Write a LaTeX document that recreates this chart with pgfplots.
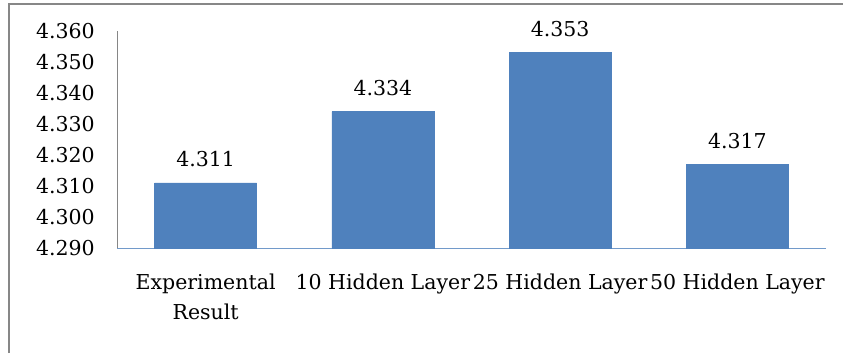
\documentclass[border=0pt]{standalone}
\usepackage{fontspec}
\setmainfont{DejaVu Serif}
\usepackage{pgfplots}
\pgfplotsset{compat=1.18}
\definecolor{barblue}{HTML}{4F81BD}
\definecolor{framegray}{HTML}{878787}
\definecolor{axgray}{HTML}{868686}
\newcommand{\chartfont}{\fontsize{20.5bp}{30bp}\selectfont}
\begin{document}
\begin{tikzpicture}[x=1bp,y=1bp]
\useasboundingbox (0,0) rectangle (843,353);
\draw[framegray, line width=1.5bp] (9,0) -- (9,349) -- (843,349);
\begin{axis}[
  at={(117bp,105bp)}, anchor=south west,
  width=709bp, height=217bp, scale only axis,
  xmin=-0.5, xmax=3.5, ymin=4.29, ymax=4.36,
  axis x line*=bottom, axis y line*=left,
  axis line style={-},
  x axis line style={barblue!80, line width=1bp},
  y axis line style={axgray, line width=0.8bp},
  xtick={0,1,2,3},
  xticklabels={Experimental\\Result, 10 Hidden Layer, 25 Hidden Layer, 50 Hidden Layer},
  ytick={4.29,4.30,4.31,4.32,4.33,4.34,4.35,4.36},
  major tick length=0pt,
  tick style={draw=none},
  /pgf/number format/assume math mode=true,
  yticklabel style={font=\chartfont, /pgf/number format/fixed, /pgf/number format/fixed zerofill, /pgf/number format/precision=3, anchor=east, inner sep=0pt, xshift=-22bp},
  xticklabel style={font=\chartfont, align=center, anchor=north, inner sep=0pt, yshift=-26bp},
  scaled y ticks=false,
  ybar, bar width=102bp,
  nodes near coords,
  nodes near coords style={font=\chartfont, /pgf/number format/fixed, /pgf/number format/fixed zerofill, /pgf/number format/precision=3, anchor=base, inner sep=0pt, yshift=16bp},
  clip=false,
]
\addplot[fill=barblue, draw=barblue] coordinates {(0,4.311) (1,4.334) (2,4.353) (3,4.317)};
\end{axis}
\end{tikzpicture}
\end{document}
